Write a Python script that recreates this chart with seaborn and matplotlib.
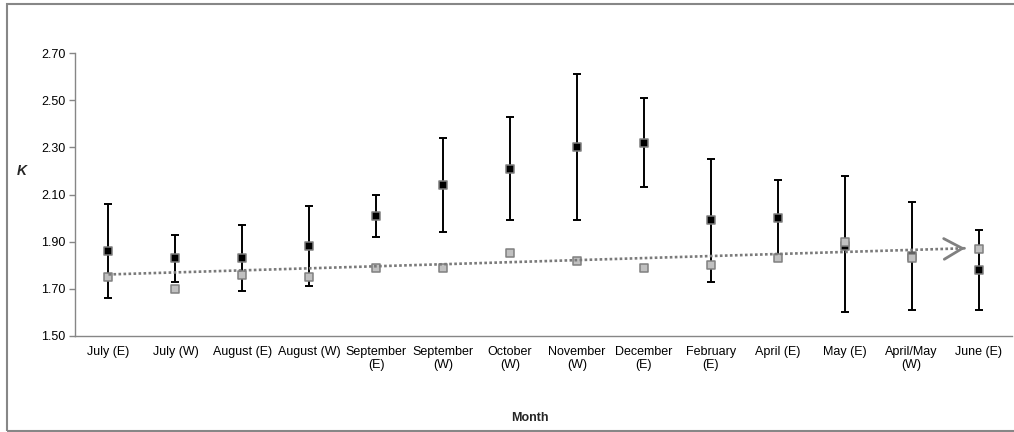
import numpy as np
import pandas as pd
import matplotlib
matplotlib.use("Agg")
import matplotlib.pyplot as plt
from matplotlib.patches import Rectangle
import seaborn as sns

categories = ["July (E)", "July (W)", "August (E)", "August (W)", "September\n(E)",
              "September\n(W)", "October\n(W)", "November\n(W)", "December\n(E)",
              "February\n(E)", "April (E)", "May (E)", "April/May\n(W)", "June (E)"]
k_mean = [1.86, 1.83, 1.83, 1.88, 2.01, 2.14, 2.21, 2.30, 2.32, 1.99, 2.00, 1.88, 1.84, 1.78]
k_low = [1.66, 1.73, 1.69, 1.71, 1.92, 1.94, 1.99, 1.99, 2.13, 1.73, 1.84, 1.60, 1.61, 1.61]
k_high = [2.06, 1.93, 1.97, 2.05, 2.10, 2.34, 2.43, 2.61, 2.51, 2.25, 2.16, 2.18, 2.07, 1.95]
k_ref = [1.75, 1.70, 1.76, 1.75, 1.79, 1.79, 1.85, 1.82, 1.79, 1.80, 1.83, 1.90, 1.83, 1.87]
trend_x = [0.0, 12.8]
trend_y = [1.761, 1.872]
y_ticks = [1.50, 1.70, 1.90, 2.10, 2.30, 2.50, 2.70]

sns.set_theme(style="white")
plt.rcParams['font.family'] = ['Liberation Sans', 'DejaVu Sans']

pos = np.arange(len(categories))
df = pd.DataFrame({"pos": pos, "mean": k_mean, "low": k_low, "high": k_high, "ref": k_ref})

fig = plt.figure(figsize=(10.14, 4.32), dpi=100)
ax = fig.add_axes([75/1014, 96/432, 937/1014, 283/432])

# error bars
yerr = np.vstack([df["mean"] - df["low"], df["high"] - df["mean"]])
ax.errorbar(df["pos"], df["mean"], yerr=yerr, fmt="none", ecolor="black",
            elinewidth=1.4, capsize=3, capthick=1.4, zorder=2)
# black markers
sns.scatterplot(data=df, x="pos", y="mean", marker="s", s=34, color="black",
                edgecolor="#7f7f7f", linewidth=1.1, ax=ax, zorder=3, legend=False)
# gray markers
sns.scatterplot(data=df, x="pos", y="ref", marker="s", s=34, color="#c0c0c0",
                edgecolor="#808080", linewidth=1.1, ax=ax, zorder=4, legend=False)

# trend arrow
trend = pd.DataFrame({"x": trend_x, "y": trend_y})
sns.lineplot(data=trend, x="x", y="y", ax=ax, color="#7a7a7a", linestyle=(0, (1.0, 0.9)),
             linewidth=1.9, zorder=5)
slope = (trend_y[1] - trend_y[0]) / (trend_x[1] - trend_x[0])
ax.annotate("", xy=(trend_x[1], trend_y[1]),
            xytext=(trend_x[1] - 0.01, trend_y[1] - 0.01 * slope),
            arrowprops=dict(arrowstyle="->,head_length=1.1,head_width=0.62",
                            color="#808080", lw=2.0, shrinkA=0, shrinkB=0,
                            mutation_scale=12), zorder=5)

ax.set_xlim(-0.5, 13.5)
ax.set_ylim(1.50, 2.70)
ax.set_yticks(y_ticks)
ax.set_yticklabels([f"{v:.2f}" for v in y_ticks], fontsize=9)
ax.set_xticks(pos)
ax.set_xticklabels(categories, fontsize=9, linespacing=1.1)
ax.set_xticks(np.arange(-0.5, 14, 1), minor=True)
ax.tick_params(axis="x", which="major", length=0, pad=7, colors="black")
ax.tick_params(axis="x", which="minor", length=4, color="#868686", width=1, direction="out")
ax.tick_params(axis="y", which="major", length=4, width=1, direction="out",
               pad=3, left=True, colors="black")
ax.tick_params(axis="y", color="#868686")
ax.set_xlabel("")
ax.set_ylabel("")
for side in ["top", "right"]:
    ax.spines[side].set_visible(False)
for side in ["left", "bottom"]:
    ax.spines[side].set_color("#868686")
    ax.spines[side].set_linewidth(1.0)
ax.grid(False)

fig.text(22/1014, 1 - 171/432, "K", fontsize=10, fontweight="bold", fontstyle="italic",
         ha="center", va="center")
fig.text(530/1014, 1 - 418/432, "Month", fontsize=9, fontweight="bold",
         ha="center", va="center")

fig.patches.append(Rectangle((6.5/1014, 1.5/432), 1.2, (428.5 - 1.5)/432,
                             transform=fig.transFigure, fill=False,
                             edgecolor="#878787", linewidth=1.5, figure=fig))

fig.savefig("out.png", dpi=100)
